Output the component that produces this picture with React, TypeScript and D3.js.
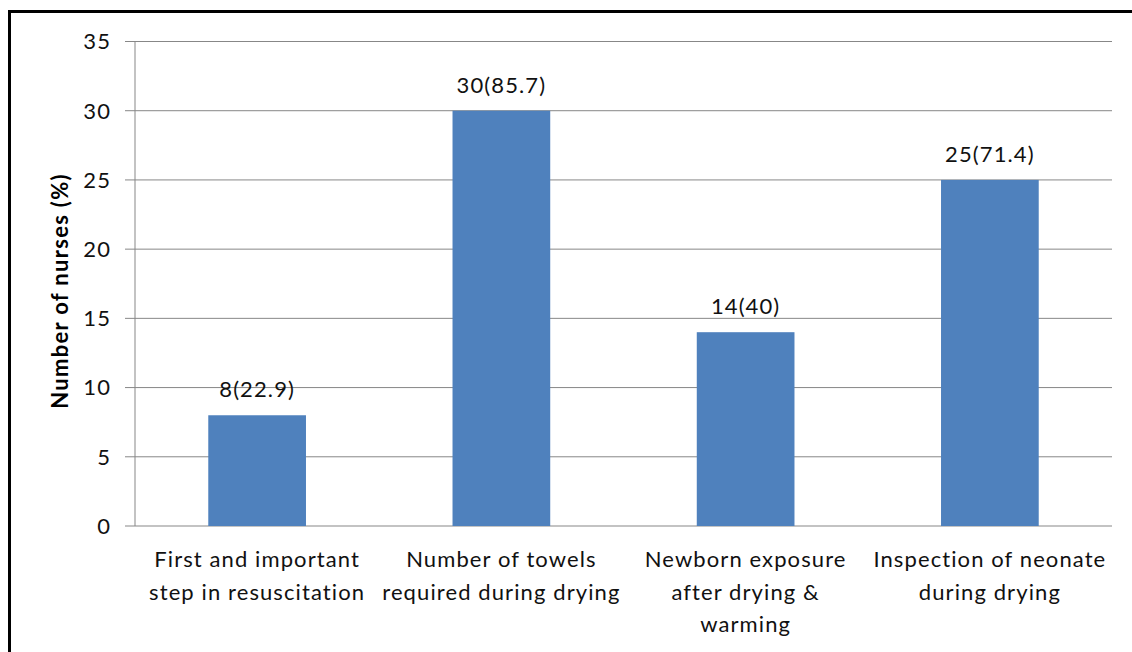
import React from "react";
import * as d3 from "d3";

const categories: string[][] = [
  ["First and important", "step in resuscitation"],
  ["Number of towels", "required during drying"],
  ["Newborn exposure", "after drying &", "warming"],
  ["Inspection of neonate", "during drying"],
];
const counts: number[] = [8, 30, 14, 25];
const percents: string[] = ["22.9", "85.7", "40", "71.4"];
const yTicks: number[] = [0, 5, 10, 15, 20, 25, 30, 35];
const yTitle = "Number of nurses (%)";

export default function App() {
  const W = 1132, H = 652;
  const left = 135, right = 1112, top = 41.5, bottom = 526;
  const band = d3.scaleBand<number>().domain(d3.range(counts.length)).range([left, right]);
  const y = d3.scaleLinear().domain([0, 35]).range([bottom, top]);
  const font = "Lato, 'Open Sans', sans-serif";
  const grid = "#878787";
  const fs = 22;
  const ls = 1.1;
  return (
    <svg width={W} height={H} style={{ position: "absolute", left: 0, top: 0, background: "#fff" }} fontFamily={font}>
      <rect x={9.5} y={11.5} width={1300} height={800} fill="none" stroke="#000" strokeWidth={3} />
      {yTicks.map((t) => (
        <g key={t}>
          <line x1={125} x2={right} y1={y(t)} y2={y(t)} stroke={grid} strokeWidth={1} />
          <text x={111} y={y(t)} dy="0.36em" textAnchor="end" fontSize={fs} letterSpacing={ls} fill="#111">{t}</text>
        </g>
      ))}
      <line x1={left} x2={left} y1={top} y2={bottom} stroke={grid} strokeWidth={1} />
      {counts.map((v, i) => {
        const bw = band.bandwidth() / 2.5;
        const cx = band(i)! + band.bandwidth() / 2;
        return (
          <g key={i}>
            <rect x={cx - bw / 2} y={y(v)} width={bw} height={y(0) - y(v)} fill="#4F81BD" />
            <text x={cx} y={y(v) - 18} textAnchor="middle" fontSize={fs} letterSpacing={ls} fill="#111">{`${v}(${percents[i]})`}</text>
            {categories[i].map((ln, j) => (
              <text key={j} x={cx} y={567 + j * 32.5} textAnchor="middle" fontSize={fs} letterSpacing={ls} fill="#111">{ln}</text>
            ))}
          </g>
        );
      })}
      <text transform={`translate(68,291) rotate(-90)`} textAnchor="middle" fontSize={fs} fontWeight="bold" letterSpacing={1.3} fill="#000">{yTitle}</text>
    </svg>
  );
}
